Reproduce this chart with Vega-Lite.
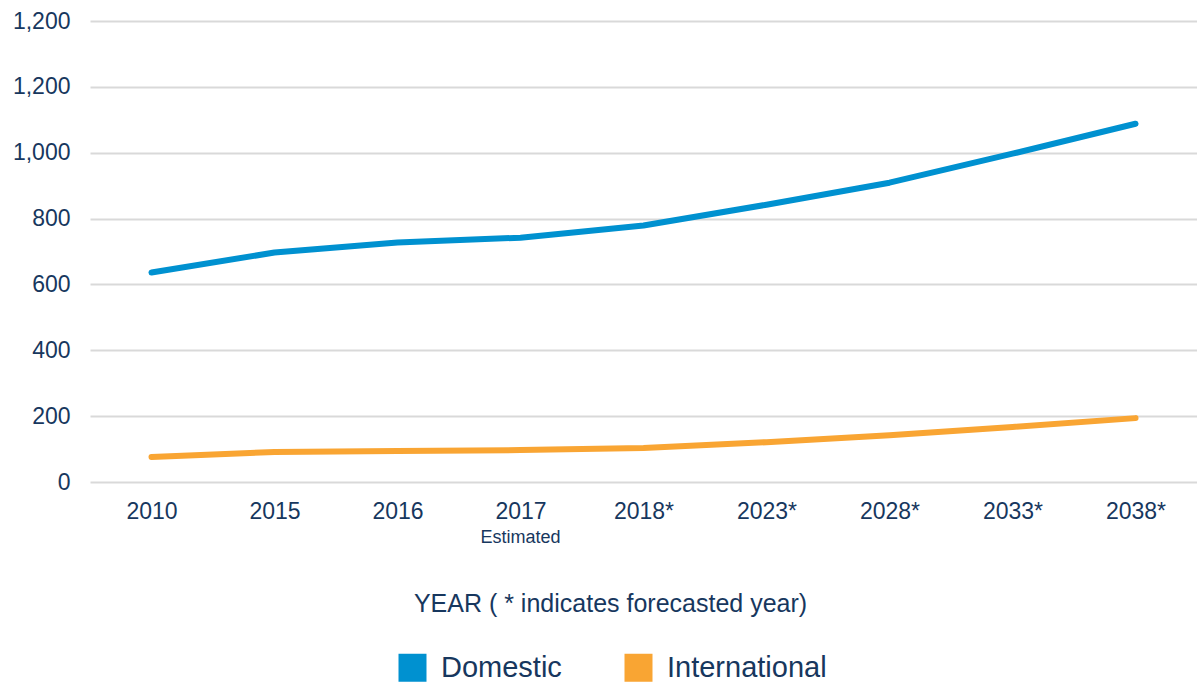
{
  "$schema": "https://vega.github.io/schema/vega-lite/v6.json",
  "width": 1107,
  "height": 461,
  "autosize": {"type": "none"},
  "padding": {"left": 90, "top": 21, "right": 0, "bottom": 202},
  "background": "white",
  "config": {
    "font": "Liberation Sans",
    "view": {"stroke": null}
  },
  "datasets": {
    "series": [
      {"year": "2010", "type": "Domestic", "value": 636},
      {"year": "2015", "type": "Domestic", "value": 697},
      {"year": "2016", "type": "Domestic", "value": 727},
      {"year": "2017", "type": "Domestic", "value": 742},
      {"year": "2018*", "type": "Domestic", "value": 779},
      {"year": "2023*", "type": "Domestic", "value": 842},
      {"year": "2028*", "type": "Domestic", "value": 909},
      {"year": "2033*", "type": "Domestic", "value": 997},
      {"year": "2038*", "type": "Domestic", "value": 1088},
      {"year": "2010", "type": "International", "value": 76},
      {"year": "2015", "type": "International", "value": 91},
      {"year": "2016", "type": "International", "value": 94},
      {"year": "2017", "type": "International", "value": 97},
      {"year": "2018*", "type": "International", "value": 103},
      {"year": "2023*", "type": "International", "value": 121},
      {"year": "2028*", "type": "International", "value": 142},
      {"year": "2033*", "type": "International", "value": 167},
      {"year": "2038*", "type": "International", "value": 194}
    ],
    "notes": [
      {"year": "2017", "value": 0, "note": "Estimated"}
    ]
  },
  "layer": [
    {
      "data": {"name": "series"},
      "mark": {"type": "line", "strokeWidth": 6, "strokeCap": "round", "strokeJoin": "round"},
      "encoding": {
        "x": {
          "field": "year", "type": "ordinal", "sort": null,
          "scale": {"type": "point", "padding": 0.5},
          "axis": {
            "title": "YEAR ( * indicates forecasted year)",
            "titleFont": "Liberation Sans", "titleFontSize": 25, "titleFontWeight": "normal",
            "titleColor": "#17375E", "titlePadding": 68,
            "titleX": 520, "titleAlign": "center",
            "labelFontSize": 23, "labelColor": "#17375E", "labelAngle": 0,
            "labelPadding": 18, "ticks": false, "domain": false, "grid": false
          }
        },
        "y": {
          "field": "value", "type": "quantitative",
          "scale": {"domain": [0, 1400], "nice": false},
          "axis": {
            "title": null,
            "values": [0, 200, 400, 600, 800, 1000, 1200, 1400],
            "format": ",d",
            "labelExpr": "datum.value == 1400 ? '1,200' : datum.label",
            "labelFontSize": 23, "labelColor": "#17375E", "labelPadding": 20,
            "ticks": false, "domain": false,
            "grid": true, "gridColor": "#D9D9D9", "gridWidth": 2
          }
        },
        "color": {
          "field": "type", "type": "nominal",
          "scale": {"domain": ["Domestic", "International"], "range": ["#0091D0", "#F9A533"]},
          "legend": {
            "title": null, "orient": "none", "direction": "horizontal",
            "legendX": 308, "legendY": 632,
            "symbolType": "square", "symbolSize": 784, "symbolStrokeWidth": 0,
            "symbolOpacity": 1,
            "labelFontSize": 29, "labelColor": "#17375E", "labelOffset": 14,
            "columnPadding": 62, "labelLimit": 300,
            "encode": {
              "symbols": {
                "update": {
                  "fill": {"scale": "color", "field": "value"},
                  "stroke": {"scale": "color", "field": "value"}
                }
              }
            }
          }
        }
      }
    },
    {
      "data": {"name": "notes"},
      "mark": {"type": "text", "dy": 56, "fontSize": 18, "color": "#17375E", "font": "Liberation Sans"},
      "encoding": {
        "x": {"field": "year", "type": "ordinal", "sort": null},
        "y": {"field": "value", "type": "quantitative"},
        "text": {"field": "note"}
      }
    }
  ]
}
